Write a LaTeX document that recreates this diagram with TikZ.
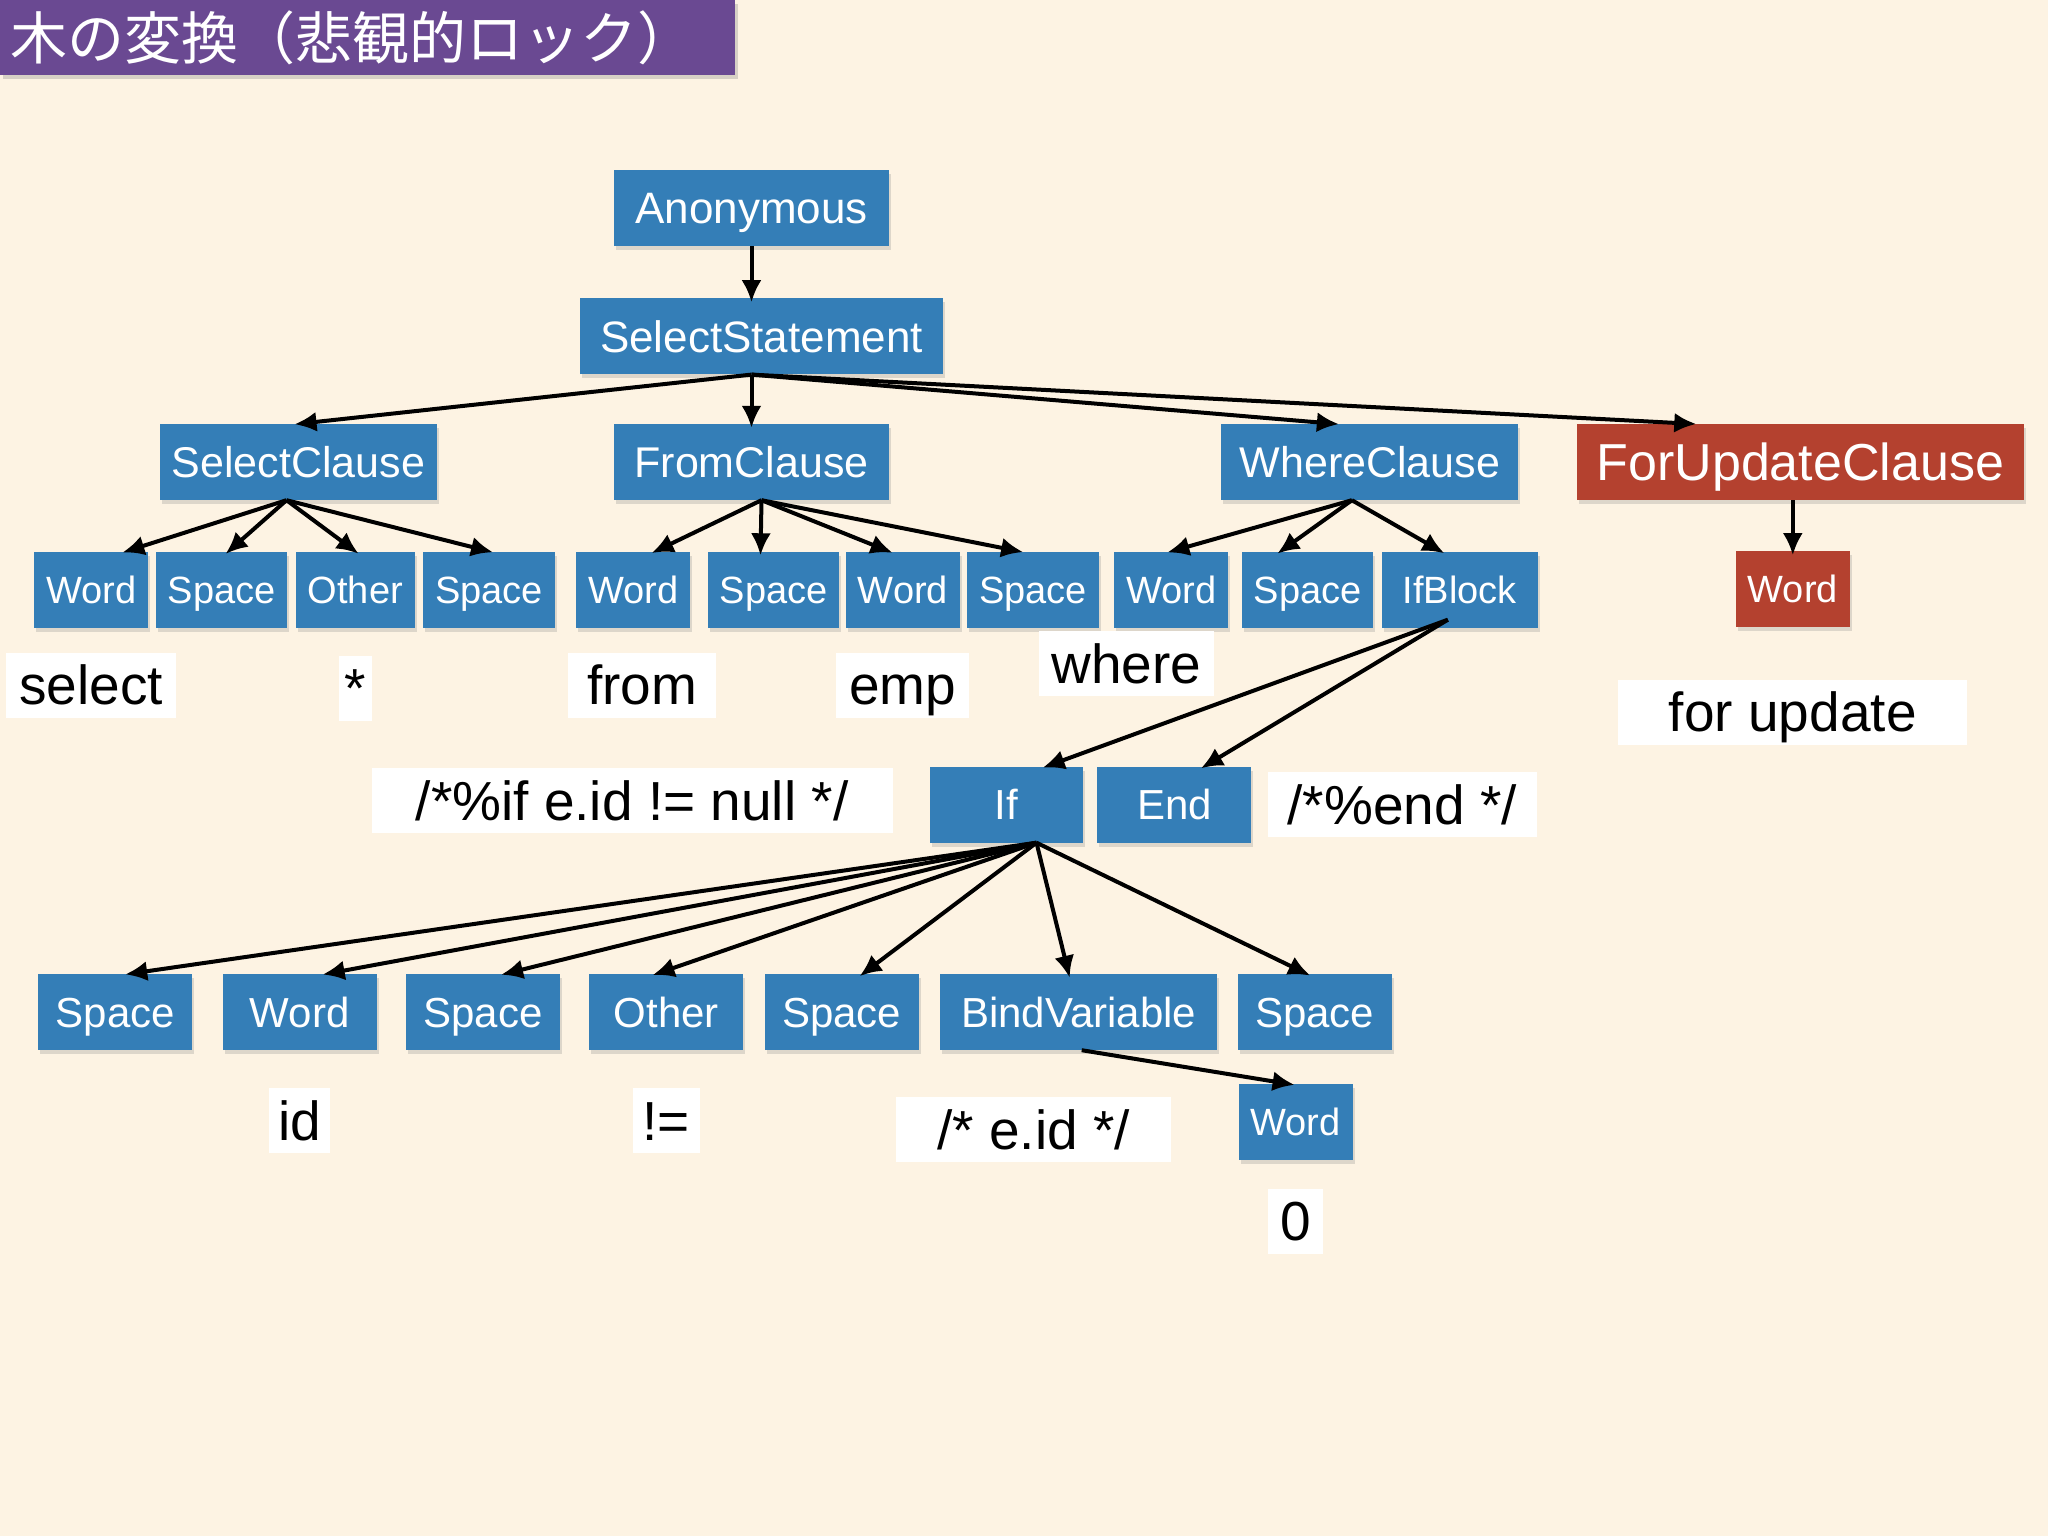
\documentclass[tikz,border=0pt]{standalone}
\usepackage{fontspec}
\setmainfont{Liberation Sans}
\newfontfamily\jpfont{Noto Sans CJK JP}
\usepackage{tikz}
\usetikzlibrary{arrows.meta,positioning,shadows}

\definecolor{bgcream}{RGB}{253,243,227}
\definecolor{tokblue}{RGB}{52,126,183}
\definecolor{tokred}{RGB}{180,65,47}
\definecolor{titlepurple}{RGB}{106,73,146}

\begin{document}
\begin{tikzpicture}[x=1pt,y=-1pt,>={Latex[length=22pt,width=20pt]},
  arr/.style={->,line width=4pt,shorten >=-4pt},
  tok/.style={rectangle,fill=tokblue,text=white,minimum height=76pt,
    inner xsep=12pt,inner ysep=4pt,text depth=0pt,
    drop shadow={shadow xshift=2pt,shadow yshift=-4pt,opacity=.25}},
  wordtok/.style={tok,font=\fontsize{38}{38}\selectfont,text height=27pt},
  clausetok/.style={tok,font=\fontsize{43}{43}\selectfont,text height=31pt},
  toptok/.style={tok,font=\fontsize{44}{44}\selectfont,text height=31.5pt},
  leaftok/.style={clausetok,font=\fontsize{42}{42}\selectfont,text height=30pt,minimum width=154pt},
  redtok/.style={fill=tokred},
  txt/.style={rectangle,fill=white,minimum height=65pt,inner xsep=13pt,inner ysep=4pt,
    font=\fontsize{55}{55}\selectfont,text height=39pt,text depth=0pt},
  title/.style={rectangle,fill=titlepurple,text=white,anchor=north west,
    minimum height=75pt,text width=715pt,inner xsep=10pt,inner ysep=0pt,align=left,
    font=\jpfont\fontsize{57}{60}\selectfont,
    drop shadow={shadow xshift=3pt,shadow yshift=-4pt,opacity=.3}}]

  \fill[bgcream] (0,0) rectangle (2048,1536);

  \node[title] (ttl) at (0,0) {木の変換（悲観的ロック）};

  % top of the tree
  \node[toptok,minimum width=275pt] (anon) at (751.5,208) {Anonymous};
  \node[toptok,minimum width=363pt,below=52pt of anon,xshift=10pt] (sstmt) {SelectStatement};

  \node[clausetok,minimum width=273pt] (sclause) at (298.5,462) {SelectClause};
  \node[clausetok,minimum width=275pt] (fclause) at (751.5,462) {FromClause};
  \node[clausetok,minimum width=297pt,right=332pt of fclause] (wclause) {WhereClause};
  \node[tok,redtok,font=\fontsize{52}{52}\selectfont,text height=37pt,minimum width=447pt,
    right=58pt of wclause] (fuclause) {ForUpdateClause};

  % tokens
  \node[wordtok,anchor=west] (sw1) at (34,589.5) {Word};
  \node[wordtok,right=7pt of sw1] (ss1) {Space};
  \node[wordtok,right=8pt of ss1] (so1) {Other};
  \node[wordtok,right=8pt of so1] (ss2) {Space};

  \node[wordtok,anchor=west] (fw1) at (576,589.5) {Word};
  \node[wordtok,right=17pt of fw1] (fs1) {Space};
  \node[wordtok,right=6pt of fs1] (fw2) {Word};
  \node[wordtok,right=7pt of fw2] (fs2) {Space};

  \node[wordtok,anchor=west] (ww1) at (1114,589.5) {Word};
  \node[wordtok,right=13pt of ww1] (ws1) {Space};
  \node[wordtok,minimum width=156pt,right=8pt of ws1] (wif) {IfBlock};

  \node[wordtok,redtok,below=51pt of fuclause,xshift=-7.5pt] (fuword) {Word};

  \node[leaftok,minimum width=153pt] (ifn) at (1006.5,804.5) {If};
  \node[leaftok,right=14pt of ifn] (endn) {End};

  \node[leaftok,anchor=west] (ls1) at (38,1012) {Space};
  \node[leaftok,right=30pt of ls1] (lw1) {Word};
  \node[leaftok,right=29pt of lw1] (ls2) {Space};
  \node[leaftok,right=29pt of ls2] (lo1) {Other};
  \node[leaftok,right=21pt of lo1] (ls3) {Space};
  \node[leaftok,minimum width=277pt,right=21pt of ls3] (bind) {BindVariable};
  \node[leaftok,right=20pt of bind] (ls4) {Space};

  \node[wordtok,below right=34pt and 21pt of bind] (bvword) {Word};

  % source text
  \node[txt,below=25pt of sw1] (tselect) {select};
  \node[txt,inner xsep=6pt,below=28pt of so1] (tstar) {*};
  \node[txt,minimum width=148pt,below=25pt of fw1,xshift=9pt] (tfrom) {from};
  \node[txt,below=25pt of fw2] (temp) {emp};
  \node[txt] (twhere) at (1126.5,663.5) {where};
  \node[txt,minimum width=349pt,below=52pt of fuword] (tforupd) {for update};
  \node[txt,minimum width=521pt,left=37pt of ifn,yshift=4pt] (tifcmt) {/*\%if e.id != null */};
  \node[txt,minimum width=269pt,right=16pt of endn] (tendcmt) {/*\%end */};
  \node[txt,inner xsep=9pt,below=38pt of lw1] (tid) {id};
  \node[txt,inner xsep=10pt,below=38pt of lo1] (tne) {!=};
  \node[txt,minimum width=275pt,below=47pt of bind,xshift=-45pt] (tbind) {/* e.id */};
  \node[txt,inner xsep=12pt,below=28pt of bvword] (tzero) {0};

  \path[arr]
    (anon.south) edge (anon.south |- sstmt.north)
    ([xshift=-10pt]sstmt.south) edge (sclause.north)
    ([xshift=-10pt]sstmt.south) edge (fclause.north)
    ([xshift=-10pt]sstmt.south) edge ([xshift=-35pt]wclause.north)
    ([xshift=-10pt]sstmt.south) edge ([xshift=-108pt]fuclause.north);

  \path[arr]
    ([xshift=-12pt]sclause.south) edge ([xshift=35pt]sw1.north)
    ([xshift=-12pt]sclause.south) edge ([xshift=7pt]ss1.north)
    ([xshift=-12pt]sclause.south) edge (so1.north)
    ([xshift=-12pt]sclause.south) edge (ss2.north)
    ([xshift=10pt]fclause.south) edge ([xshift=22pt]fw1.north)
    ([xshift=10pt]fclause.south) edge ([xshift=-13pt]fs1.north)
    ([xshift=10pt]fclause.south) edge ([xshift=-14pt]fw2.north)
    ([xshift=10pt]fclause.south) edge ([xshift=-14pt]fs2.north)
    ([xshift=-18pt]wclause.south) edge (ww1.north)
    ([xshift=-18pt]wclause.south) edge ([xshift=-27pt]ws1.north)
    ([xshift=-18pt]wclause.south) edge ([xshift=-19pt]wif.north)
    (fuword.north |- fuclause.south) edge (fuword.north);

  \path[arr]
    ([xshift=-12pt,yshift=8pt]wif.south) edge ([xshift=40pt]ifn.north)
    ([xshift=-12pt,yshift=8pt]wif.south) edge ([xshift=30pt]endn.north)
    ([xshift=30pt]ifn.south) edge ([xshift=14pt]ls1.north)
    ([xshift=30pt]ifn.south) edge ([xshift=27pt]lw1.north)
    ([xshift=30pt]ifn.south) edge ([xshift=22pt]ls2.north)
    ([xshift=30pt]ifn.south) edge ([xshift=-10pt]lo1.north)
    ([xshift=30pt]ifn.south) edge ([xshift=21pt]ls3.north)
    ([xshift=30pt]ifn.south) edge ([xshift=-10pt]bind.north)
    ([xshift=30pt]ifn.south) edge ([xshift=-8pt]ls4.north)
    ([xshift=3pt]bind.south) edge ([xshift=-5pt]bvword.north);
\end{tikzpicture}
\end{document}
